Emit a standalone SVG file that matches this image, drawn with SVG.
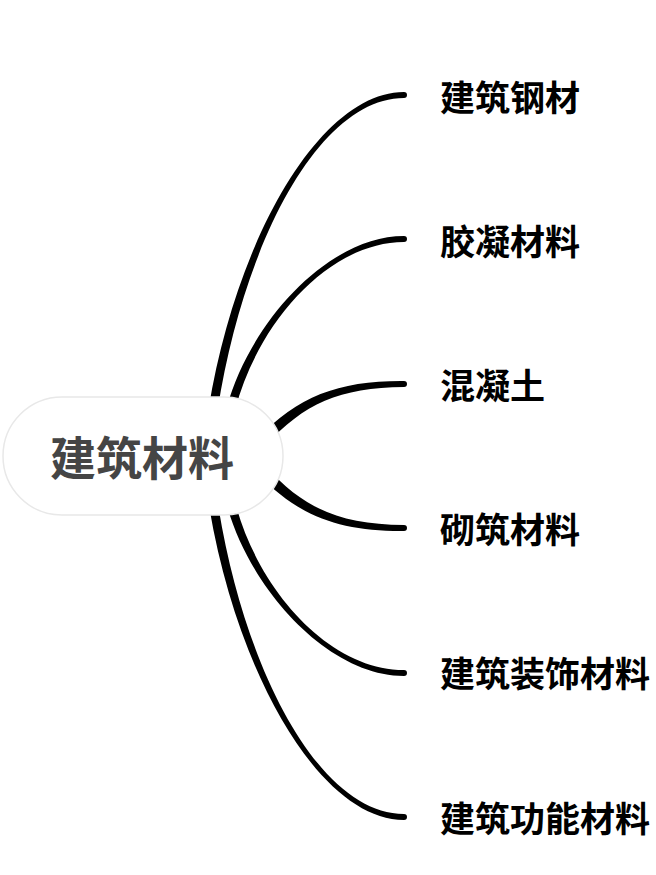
<svg xmlns="http://www.w3.org/2000/svg" width="656" height="875" viewBox="0 0 656 875">
<style>
.conn{fill:#000;}
.lbl{font-family:"Noto Sans CJK SC","Noto Sans CJK JP",sans-serif;font-weight:bold;font-size:35px;fill:#000;dominant-baseline:central;}
.root-text{font-family:"Noto Sans CJK SC","Noto Sans CJK JP",sans-serif;font-weight:bold;font-size:46px;fill:#454545;dominant-baseline:central;text-anchor:middle;}
.root-box{fill:#fff;stroke:#e8e8e8;stroke-width:1.5;}
</style>
<rect width="656" height="875" fill="#fff"/>
<g id="connectors">
<path class="conn" d="M208.5,409.3 C236,239.3 320,92 404,92 A3,3 0 0 1 404,98 C320,98 244,240.7 217.5,410.7 Z"/>
<path class="conn" d="M226.8,406.8 C251.5,319.1 330,236 404,236 A3,3 0 0 1 404,242 C330,242 258.5,320.9 235.2,409.2 Z"/>
<path class="conn" d="M258.2,438.6 C297,396 340,380.5 404,381 A3,3 0 0 1 404,387 C340,387.5 303,404 265.8,445.4 Z"/>
<path class="conn" d="M258.2,473.4 C297,516 340,531.5 404,531 A3,3 0 0 0 404,525 C340,524.5 303,508 265.8,466.6 Z"/>
<path class="conn" d="M226.8,505.2 C251.5,592.9 330,676 404,676 A3,3 0 0 0 404,670 C330,670 258.5,591.1 235.2,502.8 Z"/>
<path class="conn" d="M208.5,502.7 C236,672.7 320,820 404,820 A3,3 0 0 0 404,814 C320,814 244,671.3 217.5,501.3 Z"/>
</g>
<g id="root">
<rect class="root-box" x="3" y="397" width="280" height="118" rx="59" ry="59"/>
<text class="root-text" x="142" y="455">建筑材料</text>
</g>
<g id="n1"><text class="lbl" x="440" y="95">建筑钢材</text></g>
<g id="n2"><text class="lbl" x="440" y="239">胶凝材料</text></g>
<g id="n3"><text class="lbl" x="440" y="383">混凝土</text></g>
<g id="n4"><text class="lbl" x="440" y="527">砌筑材料</text></g>
<g id="n5"><text class="lbl" x="440" y="671">建筑装饰材料</text></g>
<g id="n6"><text class="lbl" x="440" y="816">建筑功能材料</text></g>
</svg>
